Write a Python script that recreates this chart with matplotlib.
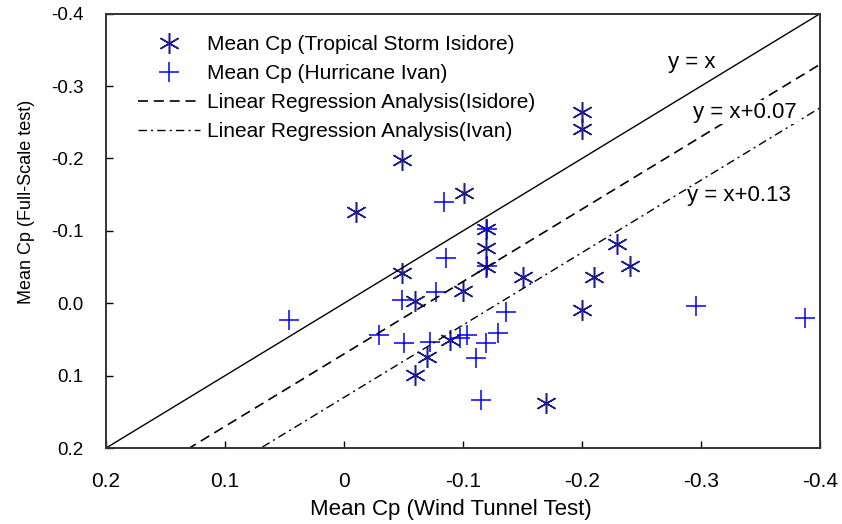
import numpy as np
import matplotlib
matplotlib.use("Agg")
import matplotlib.pyplot as plt

plt.rcParams['font.family'] = ['Liberation Sans', 'DejaVu Sans']

# Mean Cp, wind tunnel (x) vs full-scale (y)
isidore_x = [-0.049, -0.010, -0.101, -0.200, -0.200, -0.119, -0.119, -0.119, -0.049, -0.060,
             -0.100, -0.070, -0.060, -0.089, -0.150, -0.210, -0.229, -0.240, -0.200, -0.170]
isidore_y = [-0.198, -0.126, -0.152, -0.264, -0.240, -0.102, -0.076, -0.050, -0.042, -0.003,
             -0.017, 0.074, 0.099, 0.051, -0.036, -0.036, -0.082, -0.051, 0.009, 0.138]

ivan_x = [-0.084, 0.046, -0.086, -0.049, -0.077, -0.029, -0.050, -0.072, -0.103, -0.119,
          -0.111, -0.115, -0.129, -0.136, -0.120, -0.120, -0.296, -0.387, -0.097]
ivan_y = [-0.140, 0.023, -0.062, -0.004, -0.015, 0.044, 0.055, 0.054, 0.044, 0.055,
          0.076, 0.134, 0.041, 0.012, -0.051, -0.102, 0.004, 0.021, 0.048]

# regression offsets (y = x + c)
offset_isidore = 0.07
offset_ivan = 0.13

x_ticks = [0.2, 0.1, 0.0, -0.1, -0.2, -0.3, -0.4]
x_ticklabels = ['0.2', '0.1', '0', '-0.1', '-0.2', '-0.3', '-0.4']
y_ticks = [-0.4, -0.3, -0.2, -0.1, 0.0, 0.1, 0.2]
y_ticklabels = ['-0.4', '-0.3', '-0.2', '-0.1', '0.0', '0.1', '0.2']

fig = plt.figure(figsize=(8.42, 5.24), dpi=100)
ax = fig.add_axes([0.126, 0.145, 0.848, 0.829])

lim = np.array([0.2, -0.4])

ax.plot(isidore_x, isidore_y, linestyle='none', marker=(6, 2, 0), markersize=15,
        markeredgewidth=1.1, color='#1c1c8e', label='Mean Cp (Tropical Storm Isidore)')
ax.plot(ivan_x, ivan_y, linestyle='none', marker='+', markersize=15,
        markeredgewidth=1.1, color='#0000ff', label='Mean Cp (Hurricane Ivan)')
ax.plot(lim, lim + offset_isidore, color='black', lw=1.2, linestyle=(0, (6, 3.5)),
        label='Linear Regression Analysis(Isidore)')
ax.plot(lim, lim + offset_ivan, color='black', lw=1.0, linestyle=(0, (6, 3, 1.5, 3)),
        label='Linear Regression Analysis(Ivan)')
ax.plot(lim, lim, color='black', lw=1.0)

ax.text(-0.272, -0.333, 'y = x', fontsize=16, va='center')
ax.text(-0.293, -0.264, 'y = x+0.07', fontsize=16, va='center',
        bbox=dict(facecolor='white', edgecolor='none', pad=1))
ax.text(-0.288, -0.149, 'y = x+0.13', fontsize=16, va='center')

ax.set_xlim(0.2, -0.4)
ax.set_ylim(0.2, -0.4)
ax.set_xticks(x_ticks)
ax.set_xticklabels(x_ticklabels)
ax.set_yticks(y_ticks)
ax.set_yticklabels(y_ticklabels)
ax.tick_params(direction='in', length=5, width=1, labelsize=13.5, top=False, right=False)
ax.tick_params(axis='x', pad=17, labelsize=15)
ax.tick_params(axis='y', pad=16)

for s in ax.spines.values():
    s.set_linewidth(1.4)
    s.set_color('#333333')

ax.set_xlabel('Mean Cp (Wind Tunnel Test)', fontsize=16)
ax.xaxis.set_label_coords(0.483, -0.118)
ax.set_ylabel('Mean Cp (Full-Scale test)', fontsize=13)
ax.yaxis.set_label_coords(-0.1, 0.566)

ax.legend(loc='upper left', bbox_to_anchor=(0.044, 0.95), frameon=False, fontsize=15,
          handlelength=3.0, handletextpad=0.35, labelspacing=0.48, borderaxespad=0,
          borderpad=0)

fig.savefig('out.png', dpi=100)
